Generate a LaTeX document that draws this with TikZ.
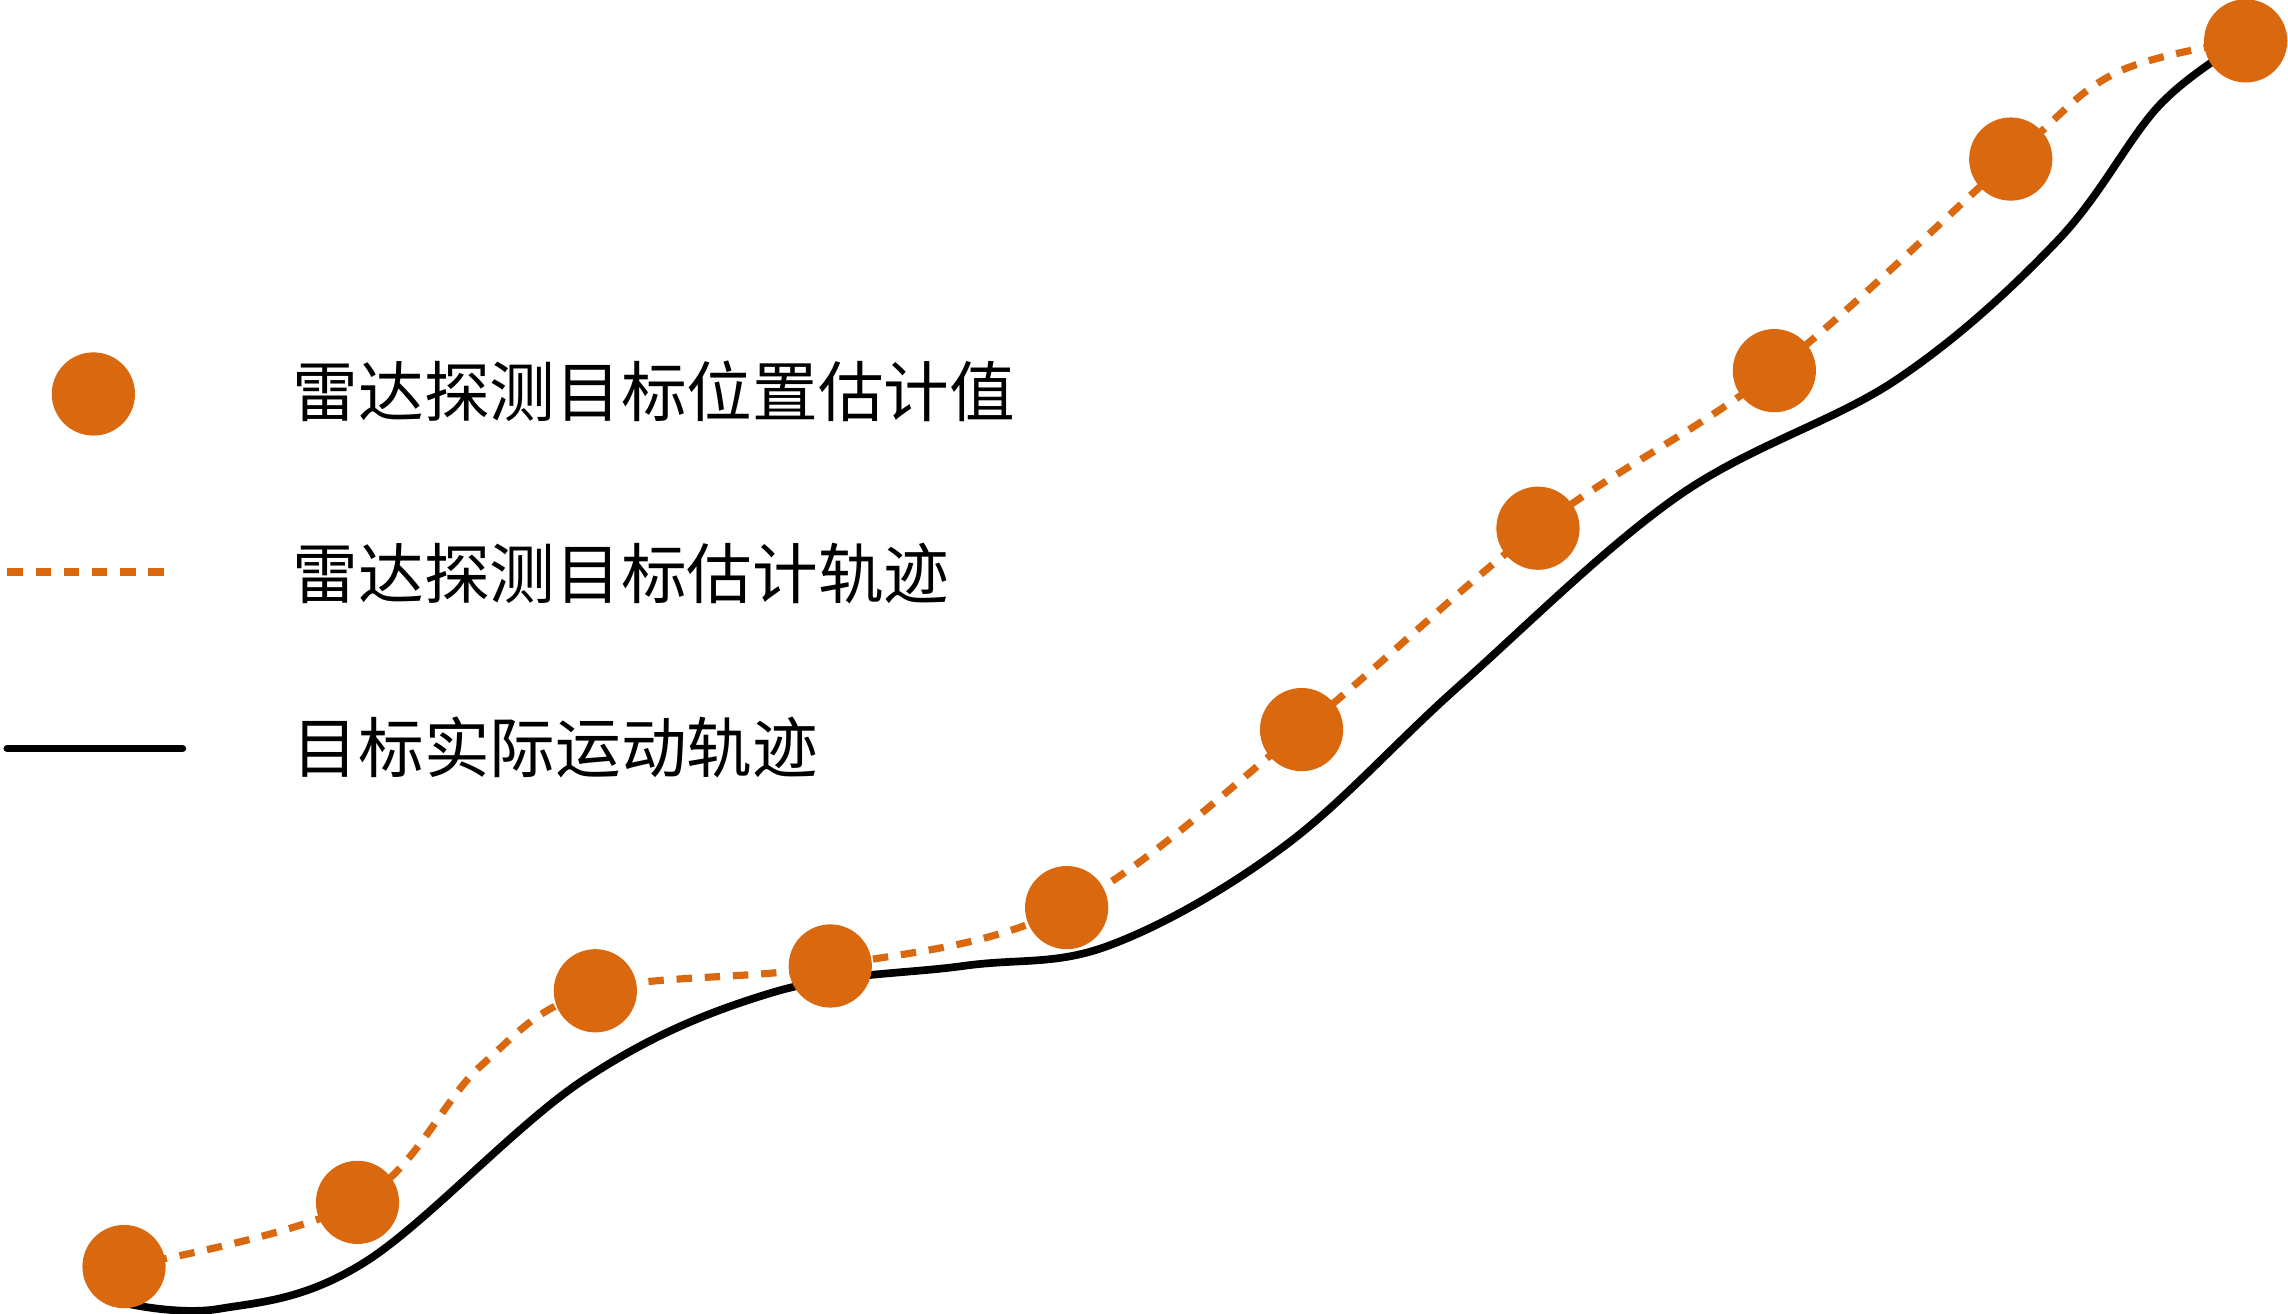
\documentclass[tikz,border=0pt]{standalone}
\usepackage{fontspec}
\newfontfamily\cjk{Noto Sans CJK SC}
\definecolor{org}{HTML}{D9680F}
\begin{document}
\begin{tikzpicture}[x=0.01cm,y=-0.01cm,
  dot/.style={circle,fill=org,minimum size=0.57cm,inner sep=0pt},
  est/.style={org,line width=1.4pt,dash pattern=on 3pt off 2.5pt},
  act/.style={black,line width=1.5pt,line cap=round},
  lab/.style={anchor=west,font=\cjk\fontsize{12.8}{14}\selectfont,inner sep=0pt}]
\useasboundingbox (0,0) rectangle (1568,900);
\draw[est] plot[smooth,tension=0.6] coordinates {(85,868)(245,824)(330,730)(408,679)(569,662)(731,622)(892,500)(1054,362)(1216,254)(1378,109)(1450,50)(1539,28)};
\draw[act] plot[smooth,tension=0.6] coordinates {(85,893)(150,897)(250,865)(400,740)(530,680)(660,662)(760,648)(880,580)(1000,470)(1150,340)(1300,260)(1410,165)(1480,72)(1539,28)};
\foreach \n/\p in {d1/{(85,868)},d2/{(245,824)},d3/{(408,679)},d4/{(569,662)},d5/{(731,622)},d6/{(892,500)},d7/{(1054,362)},d8/{(1216,254)},d9/{(1378,109)},d10/{(1539,28)}}
  \node[dot] (\n) at \p {};
\node[dot] (ld) at (64,270) {};
\coordinate (la) at (5,392); \coordinate (lb) at (115,392);
\draw[est] (la) -- (lb);
\coordinate (lc) at (5,513); \coordinate (ldd) at (125,513);
\draw[act] (lc) -- (ldd);
\node[lab] (t1) at (200,268) {雷达探测目标位置估计值};
\node[lab] (t2) at (200,393) {雷达探测目标估计轨迹};
\node[lab] (t3) at (200,512) {目标实际运动轨迹};
\end{tikzpicture}
\end{document}
